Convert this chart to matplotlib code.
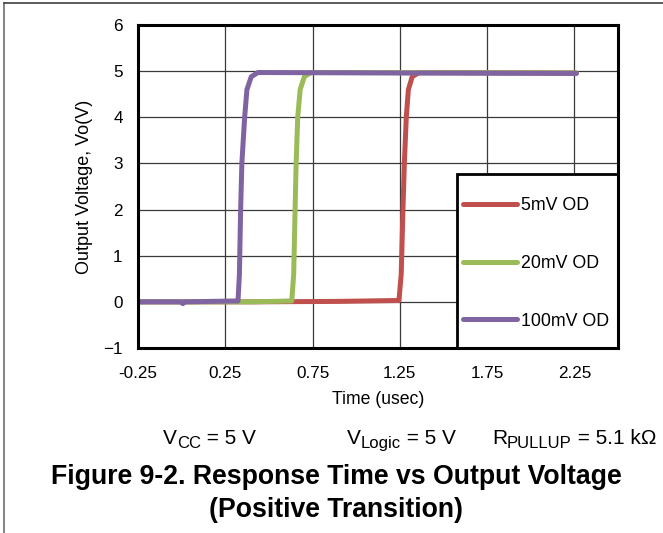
import matplotlib
matplotlib.use("Agg")
import matplotlib.pyplot as plt
from matplotlib.lines import Line2D
from matplotlib.patches import Rectangle

plt.rcParams['font.family'] = ['Liberation Sans', 'DejaVu Sans']

# ---- data (time in usec, voltage in V) ----
t_5mv = [-0.25, 0.40, 0.90, 1.245, 1.258, 1.268, 1.276, 1.287, 1.299, 1.321, 1.36, 1.50, 2.26]
v_5mv = [0.0, 0.0, 0.01, 0.03, 0.6, 2.0, 3.0, 4.0, 4.6, 4.88, 4.97, 4.97, 4.96]

t_20mv = [-0.25, 0.40, 0.631, 0.642, 0.650, 0.656, 0.665, 0.679, 0.703, 0.741, 1.0, 2.26]
v_20mv = [0.0, 0.0, 0.02, 0.6, 2.0, 3.0, 4.0, 4.6, 4.88, 4.97, 4.97, 4.96]

t_100mv = [-0.25, 0.0, 0.007, 0.015, 0.323, 0.331, 0.338, 0.345, 0.361, 0.374, 0.399, 0.437, 0.465, 1.2, 2.262]
v_100mv = [0.0, 0.0, -0.04, 0.0, 0.02, 0.6, 2.0, 3.0, 4.0, 4.6, 4.88, 4.97, 4.97, 4.96, 4.95]

series_labels = ['5mV OD', '20mV OD', '100mV OD']
series_colors = ['#C0504D', '#9BBB59', '#8064A2']

x_ticks = [-0.25, 0.25, 0.75, 1.25, 1.75, 2.25]
x_ticklabels = ['-0.25', '0.25', '0.75', '1.25', '1.75', '2.25']
y_ticks = [-1, 0, 1, 2, 3, 4, 5, 6]
y_ticklabels = ['\u22121', '0', '1', '2', '3', '4', '5', '6']

W, H = 663, 533
fig = plt.figure(figsize=(W / 100, H / 100), dpi=100)
ax = fig.add_axes([138 / W, 1 - 348 / H, (618 - 138) / W, (348 - 25) / H])

ax.set_xlim(-0.25, 2.5)
ax.set_ylim(-1, 6)
ax.set_xticks(x_ticks)
ax.set_xticklabels(x_ticklabels)
ax.set_yticks(y_ticks)
ax.set_yticklabels(y_ticklabels)
ax.tick_params(length=0, labelsize=12.3, pad=11, colors='black')
ax.tick_params(axis='x', pad=13)
ax.grid(True, color='#3a3a3a', linewidth=0.9)
ax.set_axisbelow(True)
for s in ax.spines.values():
    s.set_linewidth(2.2)
    s.set_color('black')
    s.set_zorder(5)

handles = []
for t, v, lab, c in zip([t_5mv, t_20mv, t_100mv], [v_5mv, v_20mv, v_100mv], series_labels, series_colors):
    ln, = ax.plot(t, v, color=c, lw=3.6, solid_capstyle='round', solid_joinstyle='round', label=lab)
    handles.append(ln)

# legend box
x0 = (457 - 138) / 480
ytop = (348 - 174) / 323
box = Rectangle((x0, 0), 1 - x0, ytop, transform=ax.transAxes, facecolor='white',
                edgecolor='black', linewidth=2.0, zorder=4, clip_on=False)
ax.add_patch(box)

leg = ax.legend(handles=handles, loc='center left',
                bbox_to_anchor=((463 - 138) / 480, (348 - 263.5) / 323),
                borderaxespad=0, borderpad=0, fontsize=12.8, frameon=False,
                handlelength=3.05, handletextpad=0.22, labelspacing=2.29)
leg.set_zorder(6)
for lh in leg.get_lines():
    lh.set_linewidth(3.6)
    lh.set_solid_capstyle('round')

fig.text(85 / W, 1 - 187 / H, 'Output Voltage, Vo(V)', rotation=90, ha='center', va='center', fontsize=13)
fig.text(378 / W, 1 - 400 / H, 'Time (usec)', ha='center', va='center', fontsize=12.7)

# condition line with subscripts
renderer = fig.canvas.get_renderer()


def sub_text(x_px, y_px, parts, main_size=15.0, sub_size=12.0, sub_drop=4.0):
    x = x_px
    for txt, is_sub in parts:
        size = sub_size if is_sub else main_size
        yy = y_px + (sub_drop if is_sub else 0)
        t = fig.text(x / W, 1 - yy / H, txt, ha='left', va='baseline', fontsize=size)
        bb = t.get_window_extent(renderer=renderer)
        x += bb.width


base_y = 444
sub_text(163, base_y, [('V', False), ('CC', True), (' = 5 V', False)])
sub_text(347, base_y, [('V', False), ('Logic', True), (' = 5 V', False)])
sub_text(492, base_y, [('R', False), ('PULLUP', True), (' = 5.1 k\u03a9', False)])

fig.text(336 / W, 1 - 477 / H, 'Figure 9-2. Response Time vs Output Voltage', ha='center', va='center',
         fontsize=19.2, fontweight='bold')
fig.text(336 / W, 1 - 510 / H, '(Positive Transition)', ha='center', va='center',
         fontsize=19.2, fontweight='bold')

# page frame lines
fig.add_artist(Line2D([4 / W, 4 / W], [0, 1 - 3 / H], transform=fig.transFigure, color='#707070', lw=1.2))
fig.add_artist(Line2D([4 / W, 1], [1 - 3 / H, 1 - 3 / H], transform=fig.transFigure, color='#404040', lw=1.2))

fig.savefig('out.png', dpi=100)
